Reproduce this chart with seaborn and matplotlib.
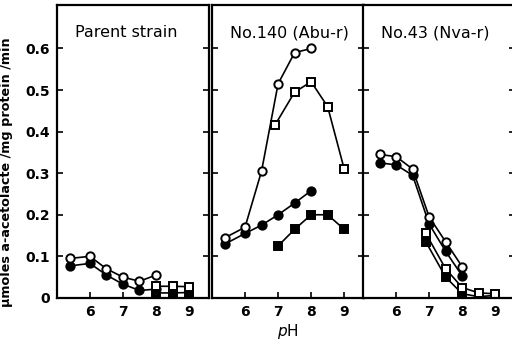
import pandas as pd
import matplotlib
matplotlib.use("Agg")
import matplotlib.pyplot as plt
import seaborn as sns

# =========================
# DATA
# =========================

panel_titles = ["Parent strain", "No.140 (Abu-r)", "No.43 (Nva-r)"]

# Parent strain
parent_open_circle_ph = [5.4, 6, 6.5, 7, 7.5, 8]
parent_open_circle = [0.095, 0.10, 0.07, 0.05, 0.04, 0.055]
parent_filled_circle_ph = [5.4, 6, 6.5, 7, 7.5, 8]
parent_filled_circle = [0.077, 0.083, 0.055, 0.033, 0.018, 0.021]
parent_open_square_ph = [8, 8.5, 9]
parent_open_square = [0.028, 0.028, 0.027]
parent_filled_square_ph = [8, 8.5, 9]
parent_filled_square = [0.012, 0.012, 0.013]

# No.140 (Abu-r)
abu_open_circle_ph = [5.4, 6, 6.5, 7, 7.5, 8]
abu_open_circle = [0.145, 0.17, 0.305, 0.515, 0.59, 0.60]
abu_filled_circle_ph = [5.4, 6, 6.5, 7, 7.5, 8]
abu_filled_circle = [0.13, 0.155, 0.175, 0.20, 0.228, 0.258]
abu_open_square_ph = [6.9, 7.5, 8, 8.5, 9]
abu_open_square = [0.415, 0.495, 0.52, 0.46, 0.31]
abu_filled_square_ph = [7, 7.5, 8, 8.5, 9]
abu_filled_square = [0.125, 0.165, 0.20, 0.20, 0.165]

# No.43 (Nva-r)
nva_open_circle_ph = [5.5, 6, 6.5, 7, 7.5, 8]
nva_open_circle = [0.345, 0.34, 0.31, 0.195, 0.135, 0.075]
nva_filled_circle_ph = [5.5, 6, 6.5, 7, 7.5, 8]
nva_filled_circle = [0.325, 0.32, 0.295, 0.178, 0.112, 0.053]
nva_open_square_ph = [6.9, 7.5, 8, 8.5, 9]
nva_open_square = [0.155, 0.07, 0.025, 0.012, 0.01]
nva_filled_square_ph = [6.9, 7.5, 8, 8.5, 9]
nva_filled_square = [0.135, 0.05, 0.01, 0.003, 0.006]

x_ticks = [6, 7, 8, 9]
y_ticks = [0, 0.1, 0.2, 0.3, 0.4, 0.5, 0.6]
y_tick_labels = ["0", "0.1", "0.2", "0.3", "0.4", "0.5", "0.6"]

# =========================
# PLOT
# =========================

sns.set_style("ticks")
plt.rcParams["font.family"] = ["DejaVu Sans"]
plt.rcParams["text.color"] = "black"
plt.rcParams["axes.labelcolor"] = "black"
plt.rcParams["xtick.color"] = "black"
plt.rcParams["ytick.color"] = "black"
plt.rcParams["axes.edgecolor"] = "black"


def draw_series(ax, ph, vals, marker, filled):
    df = pd.DataFrame({"pH": ph, "v": vals})
    face = "black" if filled else "white"
    ms = 6.0 if marker == "o" else 5.6
    sns.lineplot(data=df, x="pH", y="v", ax=ax, color="black", linewidth=1.2,
                 marker=marker, markersize=ms, markerfacecolor=face,
                 markeredgecolor="black", markeredgewidth=1.4,
                 estimator=None, sort=False)


fig = plt.figure(figsize=(5.12, 3.46), dpi=100)
bottom, height, width = 0.139, 0.847, 0.297
lefts = [0.111, 0.414, 0.709]

panels = [
    [(parent_filled_circle_ph, parent_filled_circle, "o", True),
     (parent_filled_square_ph, parent_filled_square, "s", True),
     (parent_open_square_ph, parent_open_square, "s", False),
     (parent_open_circle_ph, parent_open_circle, "o", False)],
    [(abu_filled_circle_ph, abu_filled_circle, "o", True),
     (abu_filled_square_ph, abu_filled_square, "s", True),
     (abu_open_square_ph, abu_open_square, "s", False),
     (abu_open_circle_ph, abu_open_circle, "o", False)],
    [(nva_filled_square_ph, nva_filled_square, "s", True),
     (nva_open_square_ph, nva_open_square, "s", False),
     (nva_filled_circle_ph, nva_filled_circle, "o", True),
     (nva_open_circle_ph, nva_open_circle, "o", False)],
]

for i, (left, series, title) in enumerate(zip(lefts, panels, panel_titles)):
    ax = fig.add_axes([left, bottom, width, height])
    for ph, vals, marker, filled in series:
        draw_series(ax, ph, vals, marker, filled)

    ax.set_xlim(5.0, 9.6)
    ax.set_ylim(0, 0.705)
    ax.set_xticks(x_ticks)
    ax.set_yticks(y_ticks)
    ax.set_xticklabels([str(t) for t in x_ticks], fontsize=10, fontweight="bold")
    if i == 0:
        ax.set_yticklabels(y_tick_labels, fontsize=10, fontweight="bold")
        ax.set_ylabel("μmoles a-acetolacte /mg protein /min", fontsize=9.2,
                      fontweight="bold")
        ax.yaxis.set_label_coords(-0.29, 0.43)
    else:
        ax.set_yticklabels([])
        ax.set_ylabel("")
    if i == 1:
        ax.set_xlabel(r"$\it{p}$H", fontsize=11, labelpad=2)
    else:
        ax.set_xlabel("")

    ax.tick_params(axis="both", direction="in", length=4, width=1.2, pad=5)
    ax.tick_params(axis="y", left=True, right=True)
    for s in ax.spines.values():
        s.set_visible(True)
        s.set_linewidth(1.6)
        s.set_color("black")

    ax.text(0.12, 0.905, title, transform=ax.transAxes, fontsize=11.5,
            ha="left", va="center")

fig.savefig("out.png", dpi=100)
